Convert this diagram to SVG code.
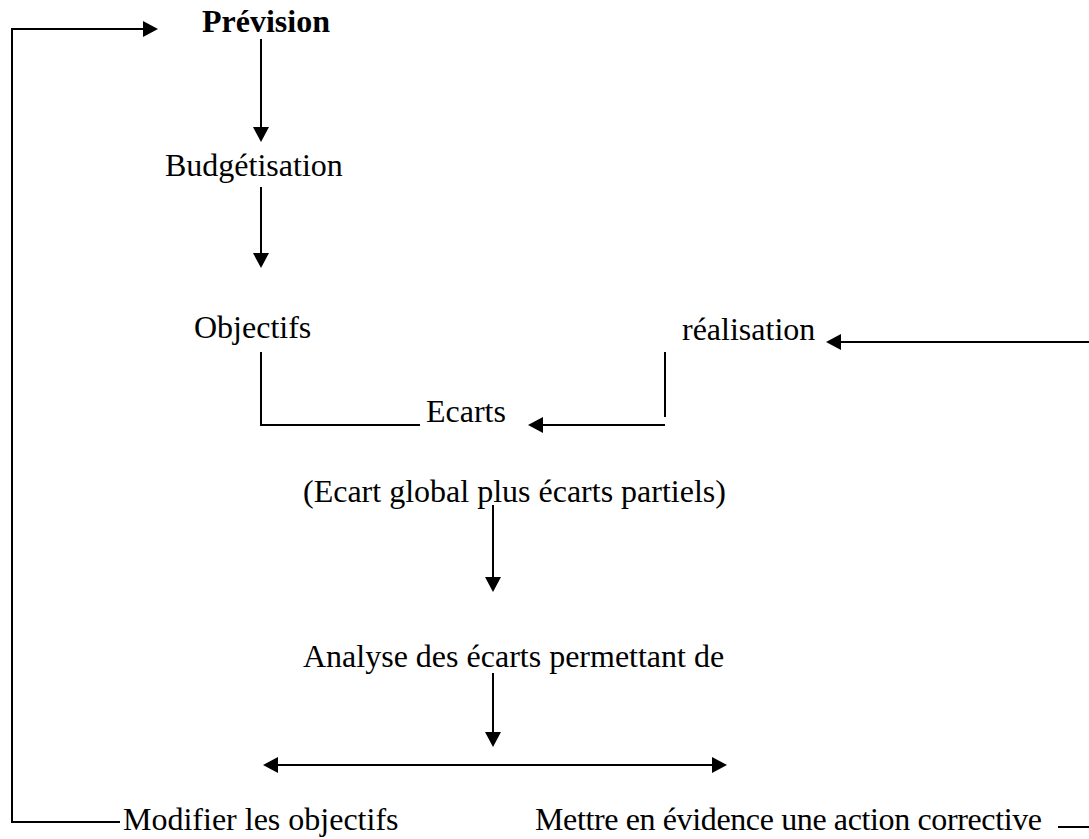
<svg xmlns="http://www.w3.org/2000/svg" width="1089" height="839" viewBox="0 0 1089 839">
  <style>
    .lbl { font-family: "Liberation Serif", "Times New Roman", serif; font-size: 32px; fill: #000; }
    .bold { font-weight: bold; }
    .wire { fill: none; stroke: #000; stroke-width: 2; }
    .arrow { fill: none; stroke: #000; stroke-width: 2; marker-end: url(#head); }
  </style>
  <defs>
    <marker id="head" viewBox="0 -8 15 16" refX="0" refY="0" markerWidth="15" markerHeight="16" markerUnits="userSpaceOnUse" orient="auto">
      <path d="M0,-8 L15,0 L0,8 z" fill="#000"/>
    </marker>
    <marker id="tail" viewBox="-15 -8 15 16" refX="0" refY="0" markerWidth="15" markerHeight="16" markerUnits="userSpaceOnUse" orient="auto">
      <path d="M0,-8 L-15,0 L0,8 z" fill="#000"/>
    </marker>
  </defs>

  <rect width="1089" height="839" fill="#fff"/>

  <g id="connectors">
    <!-- feedback loop: Modifier les objectifs back up to Prévision -->
    <path class="arrow" d="M120,822 H12 V29 H143"/>
    <!-- Prévision -> Budgétisation -->
    <line class="arrow" x1="261" y1="39" x2="261" y2="127"/>
    <!-- Budgétisation -> Objectifs -->
    <line class="arrow" x1="261" y1="187" x2="261" y2="253"/>
    <!-- Objectifs bracket into Ecarts -->
    <path class="wire" d="M261,352 V425 H420"/>
    <!-- réalisation into Ecarts -->
    <line class="wire" x1="665" y1="352" x2="665" y2="417"/>
    <line class="arrow" x1="665" y1="425" x2="543" y2="425"/>
    <!-- incoming arrow to réalisation -->
    <line class="arrow" x1="1089" y1="342" x2="841" y2="342"/>
    <!-- Ecarts detail -> Analyse -->
    <line class="arrow" x1="493" y1="505" x2="493" y2="577"/>
    <!-- Analyse -> the two outcomes -->
    <line class="arrow" x1="493" y1="673" x2="493" y2="732"/>
    <line class="wire" x1="278" y1="765" x2="712" y2="765" marker-start="url(#tail)" marker-end="url(#head)"/>
    <!-- corrective action leaves to the right -->
    <line class="wire" x1="1058" y1="827" x2="1089" y2="827"/>
  </g>

  <g id="node-prevision"><text class="lbl bold" x="202" y="32">Prévision</text></g>
  <g id="node-budgetisation"><text class="lbl" x="165" y="176">Budgétisation</text></g>
  <g id="node-objectifs"><text class="lbl" x="194" y="338">Objectifs</text></g>
  <g id="node-realisation"><text class="lbl" x="682" y="340">réalisation</text></g>
  <g id="node-ecarts"><text class="lbl" x="426" y="422">Ecarts</text></g>
  <g id="node-ecarts-detail"><text class="lbl" x="303" y="502">(Ecart global plus écarts partiels)</text></g>
  <g id="node-analyse"><text class="lbl" x="303" y="667">Analyse des écarts permettant de</text></g>
  <g id="node-modifier"><text class="lbl" x="123" y="830">Modifier les objectifs</text></g>
  <g id="node-action"><text class="lbl" x="535" y="830" textLength="507" lengthAdjust="spacing">Mettre en évidence une action corrective</text></g>
</svg>
